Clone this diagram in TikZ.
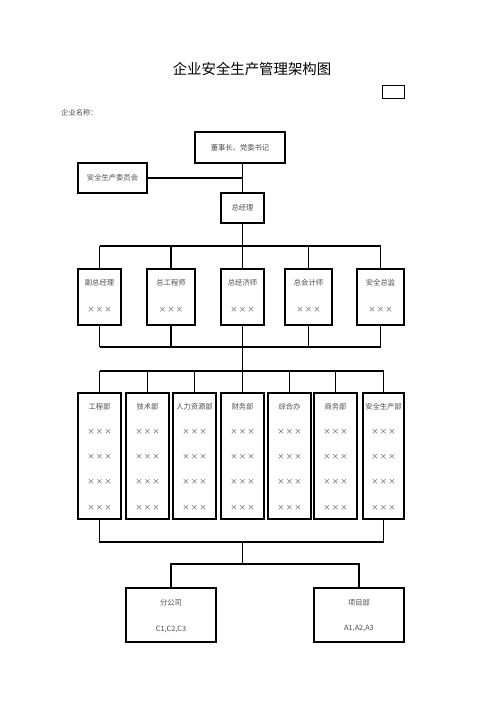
\documentclass[tikz,border=0pt]{standalone}
\usepackage{fontspec}
\setmainfont{Noto Sans CJK SC}
\begin{document}
\begin{tikzpicture}[x=1pt,y=-1pt,
  bx/.style={draw=black, line width=1.3pt, fill=white, inner sep=0pt},
  tx/.style={inner sep=0pt, text=black!70, font=\fontsize{7.3}{8}\selectfont},
  ln/.style={draw=black, line width=1.3pt}]
\useasboundingbox (0,0) rectangle (500,707);
\fill[white] (0,0) rectangle (500,707);
% title
\node[inner sep=0pt, font=\fontsize{14.4}{16}\selectfont] (title) at (252,69) {企业安全生产管理架构图};
\node[draw=black, line width=0.8pt, minimum width=22pt, minimum height=13pt, inner sep=0pt] (tag) at (393,91.5) {};
\node[tx, anchor=west] (cname) at (61,113) {企业名称：};
% top
\node[bx, minimum width=90pt, minimum height=31pt] (ds) at (240,147.5) {};
\node[tx] (dst) at (ds.center) {董事长、党委书记};
\node[bx, minimum width=69pt, minimum height=30pt] (com) at (112.5,178) {};
\node[tx] (comt) at (com.center) {安全生产委员会};
\node[bx, minimum width=43pt, minimum height=30pt] (gm) at (242.5,208) {};
\node[tx] (gmt) at (gm.center) {总经理};
\draw[ln] (gm.north) -- (gm.north |- ds.south);
\draw[ln] (com.east) -- (com.east -| gm.north);
% row 2
\coordinate (busA) at (242.5,246);
\coordinate (busB) at (242.5,347);
\foreach \n/\cx/\w/\t in {b1/99.5/43/副总经理, b2/171/48/总工程师, b3/242.5/43/总经济师, b4/308.5/47/总会计师, b5/380.5/47/安全总监}{
  \node[bx, minimum width=\w pt, minimum height=56pt] (\n) at (\cx,297) {};
  \node[tx] (\n t) at (\cx,283) {\t};
  \node[tx] (\n x) at (\cx,310) {×\,×\,×};
  \draw[ln] (\n.north) -- (\n.north |- busA);
  \draw[ln] (\n.south) -- (\n.south |- busB);
}
\draw[ln] (gm.south) -- (busA);
\draw[ln] (b1.north |- busA) -- (b5.north |- busA);
\draw[ln] (b1.south |- busB) -- (b5.south |- busB);
% row 3
\coordinate (busC) at (242.5,371);
\coordinate (busD) at (242.5,542);
\draw[ln] (busB) -- (busC);
\foreach \n/\cx/\w/\t in {c1/99.5/43/工程部, c2/147.5/43/技术部, c3/194.5/43/人力资源部, c4/242.5/43/财务部, c5/289.5/43/综合办, c6/335.5/43/商务部, c7/383.5/41/安全生产部}{
  \node[bx, minimum width=\w pt, minimum height=126pt] (\n) at (\cx,456) {};
  \node[tx] (\n t) at (\cx,407) {\t};
  \node[tx] (\n x1) at (\cx,432) {×\,×\,×};
  \node[tx] (\n x2) at (\cx,457) {×\,×\,×};
  \node[tx] (\n x3) at (\cx,482) {×\,×\,×};
  \node[tx] (\n x4) at (\cx,508) {×\,×\,×};
  \draw[ln] (\n.north) -- (\n.north |- busC);
}
\draw[ln] (c1.north |- busC) -- (c7.north |- busC);
\draw[ln] (c1.south) -- (c1.south |- busD) -- (c7.south |- busD) -- (c7.south);
% row 4
\coordinate (busE) at (242.5,564);
\draw[ln] (busD) -- (busE);
\node[bx, minimum width=90pt, minimum height=54pt] (fg) at (171,615) {};
\node[tx] (fgt) at (171,603) {分公司};
\node[tx] (fgs) at (171,629) {C1,C2,C3};
\node[bx, minimum width=90pt, minimum height=54pt] (xm) at (359,615) {};
\node[tx] (xmt) at (359,603) {项目部};
\node[tx] (xms) at (359,629) {A1,A2,A3};
\draw[ln] (fg.north) -- (fg.north |- busE) -- (xm.north |- busE) -- (xm.north);
\end{tikzpicture}
\end{document}
